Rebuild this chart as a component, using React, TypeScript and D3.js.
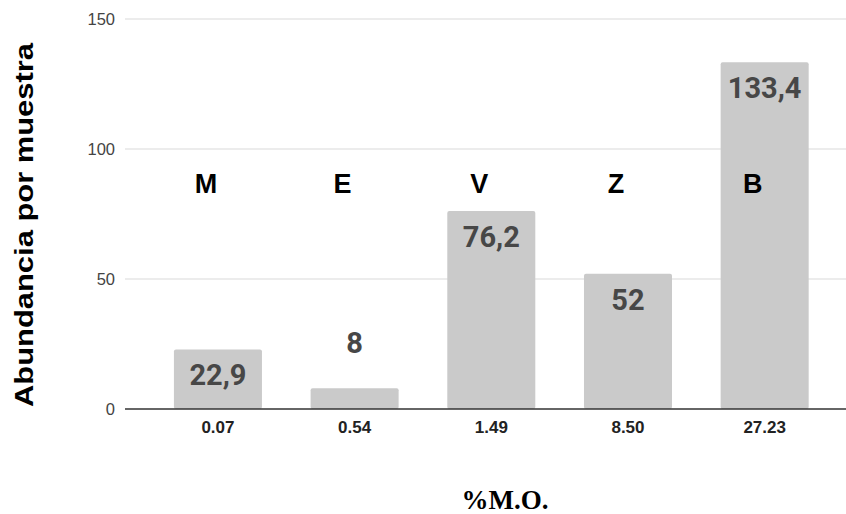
import React from "react";
import * as d3 from "d3";

// Organic matter percentage per sample and mean abundance
const moLabels = ["0.07", "0.54", "1.49", "8.50", "27.23"];
const sampleCodes = ["M", "E", "V", "Z", "B"];
const abundance = [22.9, 8, 76.2, 52, 133.4];
const abundanceText = ["22,9", "8", "76,2", "52", "133,4"];
const yTicks = [0, 50, 100, 150];

const W = 846;
const H = 514;

export default function App() {
  const x = d3
    .scaleBand<string>()
    .domain(moLabels)
    .range([149.6, 833])
    .paddingInner(0.356)
    .paddingOuter(0.178);
  const y = d3.scaleLinear().domain([0, 150]).range([409, 19]);

  const gridLeft = 125;
  const gridRight = 846;

  return (
    <svg
      width={W}
      height={H}
      style={{ position: "absolute", left: 0, top: 0, background: "#fff" }}
    >
      <rect width={W} height={H} fill="#fff" />
      {/* horizontal gridlines */}
      {yTicks.slice(1).map((t) => (
        <line
          key={t}
          x1={gridLeft}
          x2={gridRight}
          y1={y(t)}
          y2={y(t)}
          stroke="#d9d9d9"
          strokeWidth={1.2}
        />
      ))}
      {/* y tick labels */}
      {yTicks.map((t) => (
        <text
          key={t}
          x={115}
          y={y(t) + 6}
          textAnchor="end"
          fontFamily="'Liberation Sans', Arial, sans-serif"
          fontSize={16.5}
          fill="#444"
        >
          {t}
        </text>
      ))}
      {/* bars */}
      {moLabels.map((m, i) => (
        <rect
          key={m}
          x={x(m)}
          y={y(abundance[i])}
          width={x.bandwidth()}
          height={y(0) - y(abundance[i])}
          fill="#cacaca"
          rx={2}
        />
      ))}
      {/* baseline */}
      <line x1={gridLeft} x2={gridRight} y1={y(0)} y2={y(0)} stroke="#333" strokeWidth={1.3} />
      {/* value labels */}
      {moLabels.map((m, i) => {
        const top = y(abundance[i]);
        const inside = y(0) - top > 45;
        return (
          <text
            key={m}
            x={(x(m) ?? 0) + x.bandwidth() / 2}
            y={inside ? top + 36 : top - 35}
            textAnchor="middle"
            fontFamily="Roboto, 'Noto Sans', sans-serif"
            fontWeight={700}
            fontSize={29}
            fill="#474747"
          >
            {abundanceText[i]}
          </text>
        );
      })}
      {/* sample codes */}
      {moLabels.map((m, i) => (
        <text
          key={m}
          x={(x(m) ?? 0) + x.bandwidth() / 2 - 12}
          y={193}
          textAnchor="middle"
          fontFamily="'Liberation Sans', Arial, sans-serif"
          fontWeight={700}
          fontSize={27}
          fill="#000"
        >
          {sampleCodes[i]}
        </text>
      ))}
      {/* x tick labels */}
      {moLabels.map((m) => (
        <text
          key={m}
          x={(x(m) ?? 0) + x.bandwidth() / 2}
          y={433}
          textAnchor="middle"
          fontFamily="'Liberation Sans', Arial, sans-serif"
          fontWeight={700}
          fontSize={17}
          fill="#222"
        >
          {m}
        </text>
      ))}
      {/* axis titles */}
      <text
        transform={`translate(33,225) rotate(-90)`}
        textAnchor="middle"
        fontFamily="'Liberation Sans', Arial, sans-serif"
        fontWeight={700}
        fontSize={26}
        fill="#000"
        textLength={364}
        lengthAdjust="spacingAndGlyphs"
      >
        Abundancia por muestra
      </text>
      <text
        x={505}
        y={509}
        textAnchor="middle"
        fontFamily="'Liberation Serif', 'Times New Roman', serif"
        fontWeight={700}
        fontSize={27}
        fill="#000"
      >
        %M.O.
      </text>
    </svg>
  );
}
